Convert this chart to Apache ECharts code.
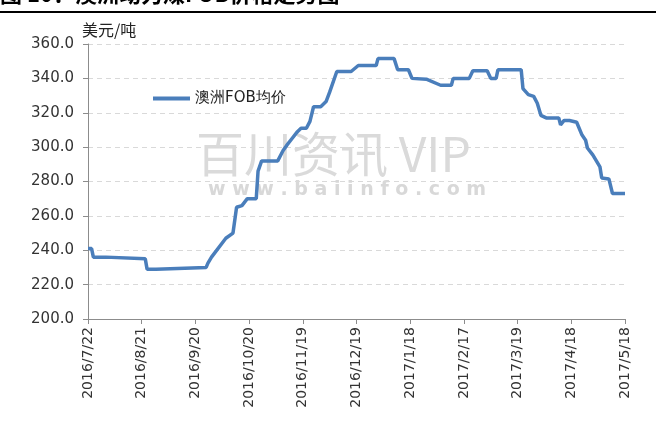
<!DOCTYPE html>
<html>
<head>
<meta charset="utf-8">
<script src="https://cdn.jsdelivr.net/npm/echarts@6/dist/echarts.min.js"></script>
<style>html,body{margin:0;padding:0;background:#fff;}#c{width:659px;height:421px;}</style>
</head>
<body>
<div id="c"></div>
<script>
const seriesName = '澳洲FOB均价';
const unitLabel = '美元/吨';
const titleText = '图 10：澳洲动力煤FOB价格走势图';
const tickLabels = ['2016/7/22','2016/8/21','2016/9/20','2016/10/20','2016/11/19','2016/12/19','2017/1/18','2017/2/17','2017/3/19','2017/4/18','2017/5/18'];
const dates = ['2016/7/22','2016/7/24','2016/7/25','2016/7/30','2016/7/31','2016/8/1','2016/8/2','2016/8/23','2016/8/24','2016/8/29','2016/8/30','2016/9/26','2016/9/27','2016/9/29','2016/10/7','2016/10/11','2016/10/13','2016/10/16','2016/10/19','2016/10/24','2016/10/25','2016/10/27','2016/11/5','2016/11/8','2016/11/10','2016/11/13','2016/11/16','2016/11/18','2016/11/21','2016/11/23','2016/11/25','2016/11/29','2016/12/2','2016/12/4','2016/12/8','2016/12/16','2016/12/20','2016/12/30','2016/12/31','2017/1/9','2017/1/11','2017/1/17','2017/1/19','2017/1/27','2017/2/4','2017/2/10','2017/2/11','2017/2/20','2017/2/22','2017/3/2','2017/3/4','2017/3/7','2017/3/8','2017/3/21','2017/3/22','2017/3/25','2017/3/28','2017/3/30','2017/4/1','2017/4/4','2017/4/11','2017/4/12','2017/4/14','2017/4/17','2017/4/21','2017/4/24','2017/4/26','2017/4/27','2017/4/30','2017/5/4','2017/5/5','2017/5/9','2017/5/11','2017/5/18'];
const prices = [241,241,236,236,235,236,235,235,229,229,230,230,232.5,236,247,250,265,266,270,270,286,292,292,298,301,305,309,311,311,315,323.5,323.5,326.5,332,344,344,347.5,347.5,351.5,351.5,345,345,340,339.5,336,336,340,340,344.5,344.5,340,340,345,345,334,330.5,329.5,325.5,318.5,317,317,313,315.5,315.5,314.5,307,304,299.5,295.5,288.5,282,281.5,273,273];

function toUTC(s){const p=s.split('/').map(Number);return Date.UTC(p[0],p[1]-1,p[2]);}
const t0 = toUTC(tickLabels[0]);
const dayOf = s => Math.round((toUTC(s)-t0)/864e5);
const data = dates.map((d,i)=>[dayOf(d), prices[i]]);
const lastDay = dayOf(tickLabels[tickLabels.length-1]);
const step = dayOf(tickLabels[1]);

const chart = echarts.init(document.getElementById('c'), null, {renderer:'canvas'});
const font = 'DejaVu Sans';
chart.setOption({
  animation:false,
  textStyle:{fontFamily:font},
  grid:{left:88,right:34,top:44,bottom:102,containLabel:false},
  legend:{
    data:[{name:seriesName,icon:'rect'}],
    left:153, top:91, padding:0, itemWidth:37, itemHeight:4, itemGap:5,
    textStyle:{fontFamily:font,fontSize:15,color:'#222'}
  },
  graphic:[
    {type:'text',left:0,top:-17,z:10,style:{text:titleText,font:'bold 22px "Noto Sans CJK SC"',fill:'#000'}},
    {type:'rect',shape:{x:0,y:11,width:656,height:2},style:{fill:'#000'},z:11},
    {type:'text',left:82,top:22,style:{text:unitLabel,font:'16px "Noto Sans CJK SC"',fill:'#222'}},
    {type:'text',left:196,top:130,z:0,style:{text:'百川资讯 VIP',font:'48px "Noto Sans CJK SC"',fill:'#dadada',letterSpacing:10}},
    {type:'text',left:208,top:181,z:0,style:{text:'w w w . b a i i n f o . c o m',font:'bold 19px "DejaVu Sans"',fill:'#d8d8d8'}}
  ],
  xAxis:{
    type:'value', min:0, max:lastDay, interval:step,
    axisLine:{lineStyle:{color:'#8c8c8c',width:1}},
    axisTick:{show:true,length:5,lineStyle:{color:'#8c8c8c'}},
    splitLine:{show:false},
    axisLabel:{rotate:90,margin:8,fontSize:14,color:'#333',fontFamily:font,
      formatter:v=>tickLabels[Math.round(v/step)]}
  },
  yAxis:{
    type:'value', min:200, max:360, interval:20,
    axisLine:{show:true,lineStyle:{color:'#8c8c8c',width:1}},
    axisTick:{show:true,length:5,lineStyle:{color:'#8c8c8c'}},
    splitLine:{show:true,lineStyle:{color:'#d9d9d9',type:[5,4]}},
    axisLabel:{fontSize:15,color:'#333',margin:14,fontFamily:font,formatter:v=>v.toFixed(1)}
  },
  series:[{
    name:seriesName, type:'line', data:data, showSymbol:false, symbol:'none',
    lineStyle:{color:'#4a7ebb',width:3.5}, itemStyle:{color:'#4a7ebb'}, z:5
  }]
});
</script>
</body>
</html>
